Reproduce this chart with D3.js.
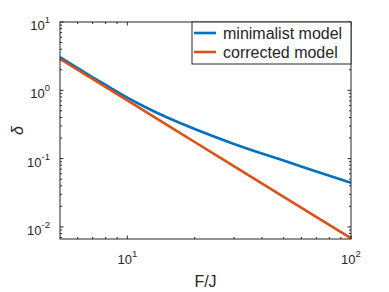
<!DOCTYPE html>
<html>
<head>
<meta charset="utf-8">
<script src="https://cdn.jsdelivr.net/npm/d3@7"></script>
<style>
  body { margin: 0; background: #fff; }
  text { font-family: "Liberation Sans", Arial, sans-serif; fill: #262626; }
</style>
</head>
<body>
<div id="chart"></div>
<script>
// values
var fMinimal = [5, 6, 7, 8, 10, 12, 15, 20, 30, 40, 50, 70, 100];
var deltaMinimal = [3.07, 2.11, 1.55, 1.196, 0.782, 0.57, 0.4025, 0.2713, 0.1641, 0.1187, 0.0935, 0.0647, 0.0442];
var fCorrected = [5, 10, 20, 50, 100];
var deltaCorrected = [2.87, 0.71, 0.175, 0.0275, 0.0068];
var seriesNames = ["minimalist model", "corrected model"];
var xMajor = [10, 100];
var yMajor = [0.01, 0.1, 1, 10];

var svgWidth = 389;
var svgHeight = 292;
var margin = { top: 22, right: 38, bottom: 53, left: 60 };
var width = svgWidth - margin.left - margin.right;
var height = svgHeight - margin.top - margin.bottom;
var axisColor = "#262626";
var colors = ["#0072BD", "#D95319"];

var svg = d3.select("#chart")
    .append("svg")
    .attr("width", svgWidth)
    .attr("height", svgHeight);

var g = svg.append("g")
    .attr("transform", "translate(" + margin.left + "," + margin.top + ")");

var xScale = d3.scaleLog().domain([5, 100]).range([0, width]);
var yScale = d3.scaleLog().domain([0.00665, 10]).range([height, 0]);

// minor ticks
var xMinor = [];
[1, 10].forEach(function (p) {
    for (var k = 2; k <= 9; k++) {
        var v = k * p;
        if (v > 5 && v < 100) xMinor.push(v);
    }
});
var yMinor = [];
[0.001, 0.01, 0.1, 1].forEach(function (p) {
    for (var k = 2; k <= 9; k++) {
        var v = k * p;
        if (v >= 0.00665 && v < 10) yMinor.push(v);
    }
});

function tickLines(vals, isX, len) {
    vals.forEach(function (v) {
        if (isX) {
            var x = xScale(v);
            g.append("line").attr("x1", x).attr("x2", x).attr("y1", height).attr("y2", height - len)
                .attr("stroke", axisColor);
            g.append("line").attr("x1", x).attr("x2", x).attr("y1", 0).attr("y2", len)
                .attr("stroke", axisColor);
        } else {
            var y = yScale(v);
            g.append("line").attr("x1", 0).attr("x2", len).attr("y1", y).attr("y2", y)
                .attr("stroke", axisColor);
            g.append("line").attr("x1", width).attr("x2", width - len).attr("y1", y).attr("y2", y)
                .attr("stroke", axisColor);
        }
    });
}
tickLines(xMinor, true, 2);
tickLines(xMajor, true, 3.5);
tickLines(yMinor, false, 2);
tickLines(yMajor, false, 3.5);

// lines
var line = d3.line()
    .x(function (d) { return xScale(d[0]); })
    .y(function (d) { return yScale(d[1]); })
    .curve(d3.curveMonotoneX);

var dataSets = [
    d3.zip(fMinimal, deltaMinimal),
    d3.zip(fCorrected, deltaCorrected)
];

dataSets.forEach(function (d, i) {
    g.append("path")
        .datum(d)
        .attr("fill", "none")
        .attr("stroke", colors[i])
        .attr("stroke-width", 2.6)
        .attr("d", line);
});

// box
g.append("rect")
    .attr("width", width).attr("height", height)
    .attr("fill", "none").attr("stroke", axisColor).attr("stroke-width", 1);

// tick labels
function powLabel(sel, exp) {
    sel.append("tspan").text("10");
    sel.append("tspan").attr("dy", -7).attr("font-size", "9.5px").text(exp);
}
xMajor.forEach(function (v) {
    var t = g.append("text")
        .attr("x", xScale(v))
        .attr("y", height + 25)
        .attr("text-anchor", "middle")
        .attr("font-size", "13px");
    powLabel(t, Math.round(Math.log10(v)));
});
yMajor.forEach(function (v) {
    var t = g.append("text")
        .attr("x", -10)
        .attr("y", yScale(v) + 8)
        .attr("text-anchor", "end")
        .attr("font-size", "13px");
    powLabel(t, Math.round(Math.log10(v)));
});

// axis labels
svg.append("text")
    .attr("x", margin.left + width / 2)
    .attr("y", 287)
    .attr("text-anchor", "middle")
    .attr("font-size", "16px")
    .text("F/J");

svg.append("text")
    .attr("transform", "translate(23," + (margin.top + height / 2) + ") rotate(-90)")
    .attr("text-anchor", "middle")
    .attr("font-size", "16px")
    .attr("font-style", "italic")
    .text("δ");

// legend
var lg = g.append("g").attr("transform", "translate(" + (width - 159) + ",0)");
lg.append("rect")
    .attr("width", 159).attr("height", 42)
    .attr("fill", "#fff").attr("stroke", axisColor).attr("stroke-width", 1);
seriesNames.forEach(function (name, i) {
    var y = 11 + i * 19;
    lg.append("line")
        .attr("x1", 2).attr("x2", 24)
        .attr("y1", y).attr("y2", y)
        .attr("stroke", colors[i]).attr("stroke-width", 2.6);
    lg.append("text")
        .attr("x", 31).attr("y", y + 6)
        .attr("font-size", "16px")
        .text(name);
});
</script>
</body>
</html>
